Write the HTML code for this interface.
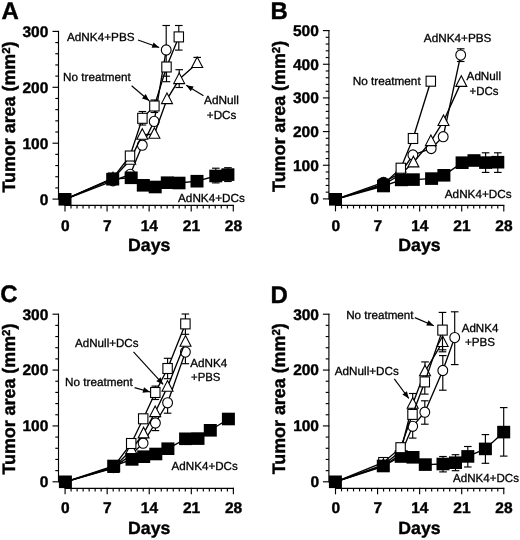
<!DOCTYPE html>
<html><head><meta charset="utf-8"><title>Figure</title>
<style>html,body{margin:0;padding:0;background:#fff}svg{display:block;will-change:transform}text{text-rendering:geometricPrecision;font-family:'Liberation Sans', sans-serif;fill:#000}</style>
</head><body>
<svg width="520" height="540" viewBox="0 0 520 540">
<rect width="520" height="540" fill="#fff"/>
<g id="panelA">
<text x="1.40" y="19.00" font-size="24" font-weight="bold" stroke="#000" stroke-width="0.4">A</text>
<line x1="58.50" y1="30.90" x2="58.50" y2="199.60" stroke="#000" stroke-width="1.15"/>
<line x1="52.50" y1="199.10" x2="59.00" y2="199.10" stroke="#000" stroke-width="1.15"/>
<text x="48.30" y="204.50" font-size="15.5" font-weight="bold" stroke="#000" stroke-width="0.4" text-anchor="end">0</text>
<line x1="55.30" y1="187.92" x2="58.50" y2="187.92" stroke="#000" stroke-width="1.15"/>
<line x1="55.30" y1="176.74" x2="58.50" y2="176.74" stroke="#000" stroke-width="1.15"/>
<line x1="55.30" y1="165.56" x2="58.50" y2="165.56" stroke="#000" stroke-width="1.15"/>
<line x1="55.30" y1="154.38" x2="58.50" y2="154.38" stroke="#000" stroke-width="1.15"/>
<line x1="52.50" y1="143.20" x2="59.00" y2="143.20" stroke="#000" stroke-width="1.15"/>
<text x="48.30" y="148.60" font-size="15.5" font-weight="bold" stroke="#000" stroke-width="0.4" text-anchor="end">100</text>
<line x1="55.30" y1="132.02" x2="58.50" y2="132.02" stroke="#000" stroke-width="1.15"/>
<line x1="55.30" y1="120.84" x2="58.50" y2="120.84" stroke="#000" stroke-width="1.15"/>
<line x1="55.30" y1="109.66" x2="58.50" y2="109.66" stroke="#000" stroke-width="1.15"/>
<line x1="55.30" y1="98.48" x2="58.50" y2="98.48" stroke="#000" stroke-width="1.15"/>
<line x1="52.50" y1="87.30" x2="59.00" y2="87.30" stroke="#000" stroke-width="1.15"/>
<text x="48.30" y="92.70" font-size="15.5" font-weight="bold" stroke="#000" stroke-width="0.4" text-anchor="end">200</text>
<line x1="55.30" y1="76.12" x2="58.50" y2="76.12" stroke="#000" stroke-width="1.15"/>
<line x1="55.30" y1="64.94" x2="58.50" y2="64.94" stroke="#000" stroke-width="1.15"/>
<line x1="55.30" y1="53.76" x2="58.50" y2="53.76" stroke="#000" stroke-width="1.15"/>
<line x1="55.30" y1="42.58" x2="58.50" y2="42.58" stroke="#000" stroke-width="1.15"/>
<line x1="52.50" y1="31.40" x2="59.00" y2="31.40" stroke="#000" stroke-width="1.15"/>
<text x="48.30" y="36.80" font-size="15.5" font-weight="bold" stroke="#000" stroke-width="0.4" text-anchor="end">300</text>
<line x1="64.50" y1="205.40" x2="233.78" y2="205.40" stroke="#000" stroke-width="1.15"/>
<line x1="65.00" y1="204.90" x2="65.00" y2="211.40" stroke="#000" stroke-width="1.15"/>
<text x="65.20" y="231.20" font-size="15.5" font-weight="bold" stroke="#000" stroke-width="0.4" text-anchor="middle">0</text>
<line x1="71.01" y1="205.40" x2="71.01" y2="208.50" stroke="#000" stroke-width="1.15"/>
<line x1="77.02" y1="205.40" x2="77.02" y2="208.50" stroke="#000" stroke-width="1.15"/>
<line x1="83.03" y1="205.40" x2="83.03" y2="208.50" stroke="#000" stroke-width="1.15"/>
<line x1="89.04" y1="205.40" x2="89.04" y2="208.50" stroke="#000" stroke-width="1.15"/>
<line x1="95.05" y1="205.40" x2="95.05" y2="208.50" stroke="#000" stroke-width="1.15"/>
<line x1="101.06" y1="205.40" x2="101.06" y2="208.50" stroke="#000" stroke-width="1.15"/>
<line x1="107.07" y1="204.90" x2="107.07" y2="211.40" stroke="#000" stroke-width="1.15"/>
<text x="107.27" y="231.20" font-size="15.5" font-weight="bold" stroke="#000" stroke-width="0.4" text-anchor="middle">7</text>
<line x1="113.08" y1="205.40" x2="113.08" y2="208.50" stroke="#000" stroke-width="1.15"/>
<line x1="119.09" y1="205.40" x2="119.09" y2="208.50" stroke="#000" stroke-width="1.15"/>
<line x1="125.10" y1="205.40" x2="125.10" y2="208.50" stroke="#000" stroke-width="1.15"/>
<line x1="131.11" y1="205.40" x2="131.11" y2="208.50" stroke="#000" stroke-width="1.15"/>
<line x1="137.12" y1="205.40" x2="137.12" y2="208.50" stroke="#000" stroke-width="1.15"/>
<line x1="143.13" y1="205.40" x2="143.13" y2="208.50" stroke="#000" stroke-width="1.15"/>
<line x1="149.14" y1="204.90" x2="149.14" y2="211.40" stroke="#000" stroke-width="1.15"/>
<text x="149.34" y="231.20" font-size="15.5" font-weight="bold" stroke="#000" stroke-width="0.4" text-anchor="middle">14</text>
<line x1="155.15" y1="205.40" x2="155.15" y2="208.50" stroke="#000" stroke-width="1.15"/>
<line x1="161.16" y1="205.40" x2="161.16" y2="208.50" stroke="#000" stroke-width="1.15"/>
<line x1="167.17" y1="205.40" x2="167.17" y2="208.50" stroke="#000" stroke-width="1.15"/>
<line x1="173.18" y1="205.40" x2="173.18" y2="208.50" stroke="#000" stroke-width="1.15"/>
<line x1="179.19" y1="205.40" x2="179.19" y2="208.50" stroke="#000" stroke-width="1.15"/>
<line x1="185.20" y1="205.40" x2="185.20" y2="208.50" stroke="#000" stroke-width="1.15"/>
<line x1="191.21" y1="204.90" x2="191.21" y2="211.40" stroke="#000" stroke-width="1.15"/>
<text x="191.41" y="231.20" font-size="15.5" font-weight="bold" stroke="#000" stroke-width="0.4" text-anchor="middle">21</text>
<line x1="197.22" y1="205.40" x2="197.22" y2="208.50" stroke="#000" stroke-width="1.15"/>
<line x1="203.23" y1="205.40" x2="203.23" y2="208.50" stroke="#000" stroke-width="1.15"/>
<line x1="209.24" y1="205.40" x2="209.24" y2="208.50" stroke="#000" stroke-width="1.15"/>
<line x1="215.25" y1="205.40" x2="215.25" y2="208.50" stroke="#000" stroke-width="1.15"/>
<line x1="221.26" y1="205.40" x2="221.26" y2="208.50" stroke="#000" stroke-width="1.15"/>
<line x1="227.27" y1="205.40" x2="227.27" y2="208.50" stroke="#000" stroke-width="1.15"/>
<line x1="233.28" y1="204.90" x2="233.28" y2="211.40" stroke="#000" stroke-width="1.15"/>
<text x="233.48" y="231.20" font-size="15.5" font-weight="bold" stroke="#000" stroke-width="0.4" text-anchor="middle">28</text>
<text x="15.40" y="192.50" font-size="18" font-weight="bold" stroke="#000" stroke-width="0.4" textLength="151.0" lengthAdjust="spacingAndGlyphs" transform="rotate(-90 15.40 192.50)">Tumor area (mm<tspan font-size="11.5" dy="-4.9">2</tspan><tspan dy="4.9">)</tspan></text>
<text x="149.20" y="251.30" font-size="17.7" font-weight="bold" stroke="#000" stroke-width="0.4" text-anchor="middle">Days</text>
<rect x="108.30" y="173.00" width="9.40" height="10.00" fill="#fff" stroke="#000" stroke-width="1.1"/>
<polyline points="65.00,199.30 113.00,180.80 130.20,174.40 142.30,145.20 154.20,121.40 166.20,50.00" fill="none" stroke="#000" stroke-width="1.35"/>
<line x1="166.20" y1="50.00" x2="166.20" y2="25.50" stroke="#000" stroke-width="1.15"/>
<line x1="162.40" y1="25.50" x2="170.00" y2="25.50" stroke="#000" stroke-width="1.15"/>
<line x1="166.20" y1="50.00" x2="166.20" y2="76.20" stroke="#000" stroke-width="1.15"/>
<line x1="162.40" y1="76.20" x2="170.00" y2="76.20" stroke="#000" stroke-width="1.15"/>
<ellipse cx="113.00" cy="180.80" rx="4.9" ry="5.1" fill="#fff" stroke="#000" stroke-width="1.1"/>
<ellipse cx="130.20" cy="174.40" rx="4.9" ry="5.1" fill="#fff" stroke="#000" stroke-width="1.1"/>
<ellipse cx="142.30" cy="145.20" rx="4.9" ry="5.1" fill="#fff" stroke="#000" stroke-width="1.1"/>
<ellipse cx="154.20" cy="121.40" rx="4.9" ry="5.1" fill="#fff" stroke="#000" stroke-width="1.1"/>
<ellipse cx="166.20" cy="50.00" rx="4.9" ry="5.1" fill="#fff" stroke="#000" stroke-width="1.1"/>
<polyline points="65.00,199.30 113.00,178.50 130.20,160.00 142.30,135.00 154.40,134.00 167.00,99.30 179.20,79.30 197.20,63.20" fill="none" stroke="#000" stroke-width="1.35"/>
<line x1="179.20" y1="79.30" x2="179.20" y2="69.70" stroke="#000" stroke-width="1.15"/>
<line x1="175.40" y1="69.70" x2="183.00" y2="69.70" stroke="#000" stroke-width="1.15"/>
<line x1="179.20" y1="79.30" x2="179.20" y2="87.50" stroke="#000" stroke-width="1.15"/>
<line x1="175.40" y1="87.50" x2="183.00" y2="87.50" stroke="#000" stroke-width="1.15"/>
<line x1="197.20" y1="63.20" x2="197.20" y2="57.40" stroke="#000" stroke-width="1.15"/>
<line x1="193.40" y1="57.40" x2="201.00" y2="57.40" stroke="#000" stroke-width="1.15"/>
<polygon points="113.00,172.20 118.50,182.80 107.50,182.80" fill="#fff" stroke="#000" stroke-width="1.1"/>
<polygon points="130.20,153.70 135.70,164.30 124.70,164.30" fill="#fff" stroke="#000" stroke-width="1.1"/>
<polygon points="142.30,128.70 147.80,139.30 136.80,139.30" fill="#fff" stroke="#000" stroke-width="1.1"/>
<polygon points="154.40,127.70 159.90,138.30 148.90,138.30" fill="#fff" stroke="#000" stroke-width="1.1"/>
<polygon points="167.00,93.00 172.50,103.60 161.50,103.60" fill="#fff" stroke="#000" stroke-width="1.1"/>
<polygon points="179.20,73.00 184.70,83.60 173.70,83.60" fill="#fff" stroke="#000" stroke-width="1.1"/>
<polygon points="197.20,56.90 202.70,67.50 191.70,67.50" fill="#fff" stroke="#000" stroke-width="1.1"/>
<polyline points="65.00,199.30 112.70,179.20 131.20,177.80 143.30,185.30 155.20,187.00 167.30,182.70 179.00,183.00 197.00,181.20 215.80,176.00 227.90,174.60" fill="none" stroke="#000" stroke-width="1.35"/>
<line x1="215.80" y1="176.00" x2="215.80" y2="168.20" stroke="#000" stroke-width="1.15"/>
<line x1="212.00" y1="168.20" x2="219.60" y2="168.20" stroke="#000" stroke-width="1.15"/>
<line x1="215.80" y1="176.00" x2="215.80" y2="182.90" stroke="#000" stroke-width="1.15"/>
<line x1="212.00" y1="182.90" x2="219.60" y2="182.90" stroke="#000" stroke-width="1.15"/>
<line x1="227.90" y1="174.60" x2="227.90" y2="167.70" stroke="#000" stroke-width="1.15"/>
<line x1="224.10" y1="167.70" x2="231.70" y2="167.70" stroke="#000" stroke-width="1.15"/>
<line x1="227.90" y1="174.60" x2="227.90" y2="181.50" stroke="#000" stroke-width="1.15"/>
<line x1="224.10" y1="181.50" x2="231.70" y2="181.50" stroke="#000" stroke-width="1.15"/>
<rect x="58.50" y="193.00" width="13.00" height="12.60" fill="#000"/>
<rect x="106.20" y="172.90" width="13.00" height="12.60" fill="#000"/>
<rect x="124.70" y="171.50" width="13.00" height="12.60" fill="#000"/>
<rect x="136.80" y="179.00" width="13.00" height="12.60" fill="#000"/>
<rect x="148.70" y="180.70" width="13.00" height="12.60" fill="#000"/>
<rect x="160.80" y="176.40" width="13.00" height="12.60" fill="#000"/>
<rect x="172.50" y="176.70" width="13.00" height="12.60" fill="#000"/>
<rect x="190.50" y="174.90" width="13.00" height="12.60" fill="#000"/>
<rect x="209.30" y="169.70" width="13.00" height="12.60" fill="#000"/>
<rect x="221.40" y="168.30" width="13.00" height="12.60" fill="#000"/>
<polyline points="65.00,199.30 113.00,178.00 130.00,156.00 142.40,118.30 154.40,106.00 166.50,67.00 178.80,36.90" fill="none" stroke="#000" stroke-width="1.35"/>
<line x1="142.40" y1="118.30" x2="142.40" y2="111.50" stroke="#000" stroke-width="1.15"/>
<line x1="138.60" y1="111.50" x2="146.20" y2="111.50" stroke="#000" stroke-width="1.15"/>
<line x1="142.40" y1="118.30" x2="142.40" y2="125.00" stroke="#000" stroke-width="1.15"/>
<line x1="138.60" y1="125.00" x2="146.20" y2="125.00" stroke="#000" stroke-width="1.15"/>
<line x1="154.40" y1="106.00" x2="154.40" y2="100.00" stroke="#000" stroke-width="1.15"/>
<line x1="150.60" y1="100.00" x2="158.20" y2="100.00" stroke="#000" stroke-width="1.15"/>
<line x1="154.40" y1="106.00" x2="154.40" y2="112.50" stroke="#000" stroke-width="1.15"/>
<line x1="150.60" y1="112.50" x2="158.20" y2="112.50" stroke="#000" stroke-width="1.15"/>
<line x1="166.50" y1="67.00" x2="166.50" y2="81.70" stroke="#000" stroke-width="1.15"/>
<line x1="162.70" y1="81.70" x2="170.30" y2="81.70" stroke="#000" stroke-width="1.15"/>
<line x1="178.80" y1="36.90" x2="178.80" y2="25.50" stroke="#000" stroke-width="1.15"/>
<line x1="175.00" y1="25.50" x2="182.60" y2="25.50" stroke="#000" stroke-width="1.15"/>
<line x1="178.80" y1="36.90" x2="178.80" y2="50.10" stroke="#000" stroke-width="1.15"/>
<line x1="175.00" y1="50.10" x2="182.60" y2="50.10" stroke="#000" stroke-width="1.15"/>
<rect x="125.30" y="151.00" width="9.40" height="10.00" fill="#fff" stroke="#000" stroke-width="1.1"/>
<rect x="137.70" y="113.30" width="9.40" height="10.00" fill="#fff" stroke="#000" stroke-width="1.1"/>
<rect x="149.70" y="101.00" width="9.40" height="10.00" fill="#fff" stroke="#000" stroke-width="1.1"/>
<rect x="161.80" y="62.00" width="9.40" height="10.00" fill="#fff" stroke="#000" stroke-width="1.1"/>
<rect x="174.10" y="31.90" width="9.40" height="10.00" fill="#fff" stroke="#000" stroke-width="1.1"/>
<text x="67.00" y="40.80" font-size="11.7" stroke="#000" stroke-width="0.3" textLength="67.6" lengthAdjust="spacingAndGlyphs">AdNK4+PBS</text>
<line x1="138.00" y1="40.00" x2="159.20" y2="47.50" stroke="#000" stroke-width="1.15"/>
<polygon points="159.20,47.50 151.65,47.85 153.55,42.48" fill="#000"/>
<text x="63.10" y="81.20" font-size="11.7" stroke="#000" stroke-width="0.3" textLength="67.6" lengthAdjust="spacingAndGlyphs">No treatment</text>
<line x1="131.60" y1="85.80" x2="149.20" y2="100.80" stroke="#000" stroke-width="1.15"/>
<polygon points="149.20,100.80 142.02,98.43 145.72,94.09" fill="#000"/>
<text x="204.00" y="104.20" font-size="11.7" stroke="#000" stroke-width="0.3" textLength="34.8" lengthAdjust="spacingAndGlyphs">AdNull</text>
<text x="206.80" y="118.80" font-size="11.7" stroke="#000" stroke-width="0.3" textLength="29.6" lengthAdjust="spacingAndGlyphs">+DCs</text>
<line x1="203.50" y1="95.70" x2="186.20" y2="85.20" stroke="#000" stroke-width="1.15"/>
<polygon points="186.20,85.20 193.66,86.40 190.71,91.27" fill="#000"/>
<text x="178.00" y="201.90" font-size="11.7" stroke="#000" stroke-width="0.3" textLength="67.0" lengthAdjust="spacingAndGlyphs">AdNK4+DCs</text>
</g>
<g id="panelB">
<text x="270.50" y="19.20" font-size="24" font-weight="bold" stroke="#000" stroke-width="0.4">B</text>
<line x1="328.90" y1="30.10" x2="328.90" y2="199.40" stroke="#000" stroke-width="1.15"/>
<line x1="322.90" y1="198.90" x2="329.40" y2="198.90" stroke="#000" stroke-width="1.15"/>
<text x="318.80" y="204.30" font-size="15.5" font-weight="bold" stroke="#000" stroke-width="0.4" text-anchor="end">0</text>
<line x1="325.70" y1="192.17" x2="328.90" y2="192.17" stroke="#000" stroke-width="1.15"/>
<line x1="325.70" y1="185.44" x2="328.90" y2="185.44" stroke="#000" stroke-width="1.15"/>
<line x1="325.70" y1="178.70" x2="328.90" y2="178.70" stroke="#000" stroke-width="1.15"/>
<line x1="325.70" y1="171.97" x2="328.90" y2="171.97" stroke="#000" stroke-width="1.15"/>
<line x1="322.90" y1="165.24" x2="329.40" y2="165.24" stroke="#000" stroke-width="1.15"/>
<text x="318.80" y="170.64" font-size="15.5" font-weight="bold" stroke="#000" stroke-width="0.4" text-anchor="end">100</text>
<line x1="325.70" y1="158.51" x2="328.90" y2="158.51" stroke="#000" stroke-width="1.15"/>
<line x1="325.70" y1="151.78" x2="328.90" y2="151.78" stroke="#000" stroke-width="1.15"/>
<line x1="325.70" y1="145.04" x2="328.90" y2="145.04" stroke="#000" stroke-width="1.15"/>
<line x1="325.70" y1="138.31" x2="328.90" y2="138.31" stroke="#000" stroke-width="1.15"/>
<line x1="322.90" y1="131.58" x2="329.40" y2="131.58" stroke="#000" stroke-width="1.15"/>
<text x="318.80" y="136.98" font-size="15.5" font-weight="bold" stroke="#000" stroke-width="0.4" text-anchor="end">200</text>
<line x1="325.70" y1="124.85" x2="328.90" y2="124.85" stroke="#000" stroke-width="1.15"/>
<line x1="325.70" y1="118.12" x2="328.90" y2="118.12" stroke="#000" stroke-width="1.15"/>
<line x1="325.70" y1="111.38" x2="328.90" y2="111.38" stroke="#000" stroke-width="1.15"/>
<line x1="325.70" y1="104.65" x2="328.90" y2="104.65" stroke="#000" stroke-width="1.15"/>
<line x1="322.90" y1="97.92" x2="329.40" y2="97.92" stroke="#000" stroke-width="1.15"/>
<text x="318.80" y="103.32" font-size="15.5" font-weight="bold" stroke="#000" stroke-width="0.4" text-anchor="end">300</text>
<line x1="325.70" y1="91.19" x2="328.90" y2="91.19" stroke="#000" stroke-width="1.15"/>
<line x1="325.70" y1="84.46" x2="328.90" y2="84.46" stroke="#000" stroke-width="1.15"/>
<line x1="325.70" y1="77.72" x2="328.90" y2="77.72" stroke="#000" stroke-width="1.15"/>
<line x1="325.70" y1="70.99" x2="328.90" y2="70.99" stroke="#000" stroke-width="1.15"/>
<line x1="322.90" y1="64.26" x2="329.40" y2="64.26" stroke="#000" stroke-width="1.15"/>
<text x="318.80" y="69.66" font-size="15.5" font-weight="bold" stroke="#000" stroke-width="0.4" text-anchor="end">400</text>
<line x1="325.70" y1="57.53" x2="328.90" y2="57.53" stroke="#000" stroke-width="1.15"/>
<line x1="325.70" y1="50.80" x2="328.90" y2="50.80" stroke="#000" stroke-width="1.15"/>
<line x1="325.70" y1="44.06" x2="328.90" y2="44.06" stroke="#000" stroke-width="1.15"/>
<line x1="325.70" y1="37.33" x2="328.90" y2="37.33" stroke="#000" stroke-width="1.15"/>
<line x1="322.90" y1="30.60" x2="329.40" y2="30.60" stroke="#000" stroke-width="1.15"/>
<text x="318.80" y="36.00" font-size="15.5" font-weight="bold" stroke="#000" stroke-width="0.4" text-anchor="end">500</text>
<line x1="335.00" y1="205.40" x2="504.28" y2="205.40" stroke="#000" stroke-width="1.15"/>
<line x1="335.50" y1="204.90" x2="335.50" y2="211.40" stroke="#000" stroke-width="1.15"/>
<text x="335.70" y="230.50" font-size="15.5" font-weight="bold" stroke="#000" stroke-width="0.4" text-anchor="middle">0</text>
<line x1="341.51" y1="205.40" x2="341.51" y2="208.50" stroke="#000" stroke-width="1.15"/>
<line x1="347.52" y1="205.40" x2="347.52" y2="208.50" stroke="#000" stroke-width="1.15"/>
<line x1="353.53" y1="205.40" x2="353.53" y2="208.50" stroke="#000" stroke-width="1.15"/>
<line x1="359.54" y1="205.40" x2="359.54" y2="208.50" stroke="#000" stroke-width="1.15"/>
<line x1="365.55" y1="205.40" x2="365.55" y2="208.50" stroke="#000" stroke-width="1.15"/>
<line x1="371.56" y1="205.40" x2="371.56" y2="208.50" stroke="#000" stroke-width="1.15"/>
<line x1="377.57" y1="204.90" x2="377.57" y2="211.40" stroke="#000" stroke-width="1.15"/>
<text x="377.77" y="230.50" font-size="15.5" font-weight="bold" stroke="#000" stroke-width="0.4" text-anchor="middle">7</text>
<line x1="383.58" y1="205.40" x2="383.58" y2="208.50" stroke="#000" stroke-width="1.15"/>
<line x1="389.59" y1="205.40" x2="389.59" y2="208.50" stroke="#000" stroke-width="1.15"/>
<line x1="395.60" y1="205.40" x2="395.60" y2="208.50" stroke="#000" stroke-width="1.15"/>
<line x1="401.61" y1="205.40" x2="401.61" y2="208.50" stroke="#000" stroke-width="1.15"/>
<line x1="407.62" y1="205.40" x2="407.62" y2="208.50" stroke="#000" stroke-width="1.15"/>
<line x1="413.63" y1="205.40" x2="413.63" y2="208.50" stroke="#000" stroke-width="1.15"/>
<line x1="419.64" y1="204.90" x2="419.64" y2="211.40" stroke="#000" stroke-width="1.15"/>
<text x="419.84" y="230.50" font-size="15.5" font-weight="bold" stroke="#000" stroke-width="0.4" text-anchor="middle">14</text>
<line x1="425.65" y1="205.40" x2="425.65" y2="208.50" stroke="#000" stroke-width="1.15"/>
<line x1="431.66" y1="205.40" x2="431.66" y2="208.50" stroke="#000" stroke-width="1.15"/>
<line x1="437.67" y1="205.40" x2="437.67" y2="208.50" stroke="#000" stroke-width="1.15"/>
<line x1="443.68" y1="205.40" x2="443.68" y2="208.50" stroke="#000" stroke-width="1.15"/>
<line x1="449.69" y1="205.40" x2="449.69" y2="208.50" stroke="#000" stroke-width="1.15"/>
<line x1="455.70" y1="205.40" x2="455.70" y2="208.50" stroke="#000" stroke-width="1.15"/>
<line x1="461.71" y1="204.90" x2="461.71" y2="211.40" stroke="#000" stroke-width="1.15"/>
<text x="461.91" y="230.50" font-size="15.5" font-weight="bold" stroke="#000" stroke-width="0.4" text-anchor="middle">21</text>
<line x1="467.72" y1="205.40" x2="467.72" y2="208.50" stroke="#000" stroke-width="1.15"/>
<line x1="473.73" y1="205.40" x2="473.73" y2="208.50" stroke="#000" stroke-width="1.15"/>
<line x1="479.74" y1="205.40" x2="479.74" y2="208.50" stroke="#000" stroke-width="1.15"/>
<line x1="485.75" y1="205.40" x2="485.75" y2="208.50" stroke="#000" stroke-width="1.15"/>
<line x1="491.76" y1="205.40" x2="491.76" y2="208.50" stroke="#000" stroke-width="1.15"/>
<line x1="497.77" y1="205.40" x2="497.77" y2="208.50" stroke="#000" stroke-width="1.15"/>
<line x1="503.78" y1="204.90" x2="503.78" y2="211.40" stroke="#000" stroke-width="1.15"/>
<text x="503.98" y="230.50" font-size="15.5" font-weight="bold" stroke="#000" stroke-width="0.4" text-anchor="middle">28</text>
<text x="285.20" y="191.90" font-size="18" font-weight="bold" stroke="#000" stroke-width="0.4" textLength="151.0" lengthAdjust="spacingAndGlyphs" transform="rotate(-90 285.20 191.90)">Tumor area (mm<tspan font-size="11.5" dy="-4.9">2</tspan><tspan dy="4.9">)</tspan></text>
<text x="419.50" y="251.30" font-size="17.7" font-weight="bold" stroke="#000" stroke-width="0.4" text-anchor="middle">Days</text>
<rect x="378.80" y="179.20" width="9.40" height="10.00" fill="#fff" stroke="#000" stroke-width="1.1"/>
<polyline points="335.50,199.30 383.50,182.30 401.00,172.50 412.90,155.00 431.20,148.50 443.20,136.70 460.70,55.10" fill="none" stroke="#000" stroke-width="1.35"/>
<line x1="460.70" y1="55.10" x2="460.70" y2="48.80" stroke="#000" stroke-width="1.15"/>
<line x1="456.90" y1="48.80" x2="464.50" y2="48.80" stroke="#000" stroke-width="1.15"/>
<line x1="460.70" y1="55.10" x2="460.70" y2="61.50" stroke="#000" stroke-width="1.15"/>
<line x1="456.90" y1="61.50" x2="464.50" y2="61.50" stroke="#000" stroke-width="1.15"/>
<ellipse cx="383.50" cy="182.30" rx="4.9" ry="5.1" fill="#fff" stroke="#000" stroke-width="1.1"/>
<ellipse cx="401.00" cy="172.50" rx="4.9" ry="5.1" fill="#fff" stroke="#000" stroke-width="1.1"/>
<ellipse cx="412.90" cy="155.00" rx="4.9" ry="5.1" fill="#fff" stroke="#000" stroke-width="1.1"/>
<ellipse cx="431.20" cy="148.50" rx="4.9" ry="5.1" fill="#fff" stroke="#000" stroke-width="1.1"/>
<ellipse cx="443.20" cy="136.70" rx="4.9" ry="5.1" fill="#fff" stroke="#000" stroke-width="1.1"/>
<ellipse cx="460.70" cy="55.10" rx="4.9" ry="5.1" fill="#fff" stroke="#000" stroke-width="1.1"/>
<polyline points="335.50,199.30 383.50,184.80 401.00,174.00 413.40,162.60 430.90,141.30 443.50,121.20 461.30,82.10" fill="none" stroke="#000" stroke-width="1.35"/>
<polygon points="383.50,178.50 389.00,189.10 378.00,189.10" fill="#fff" stroke="#000" stroke-width="1.1"/>
<polygon points="401.00,167.70 406.50,178.30 395.50,178.30" fill="#fff" stroke="#000" stroke-width="1.1"/>
<polygon points="413.40,156.30 418.90,166.90 407.90,166.90" fill="#fff" stroke="#000" stroke-width="1.1"/>
<polygon points="430.90,135.00 436.40,145.60 425.40,145.60" fill="#fff" stroke="#000" stroke-width="1.1"/>
<polygon points="443.50,114.90 449.00,125.50 438.00,125.50" fill="#fff" stroke="#000" stroke-width="1.1"/>
<polygon points="461.30,75.80 466.80,86.40 455.80,86.40" fill="#fff" stroke="#000" stroke-width="1.1"/>
<ellipse cx="383.5" cy="182.3" rx="4.9" ry="5.1" fill="#000"/>
<polyline points="335.50,199.30 383.50,186.00 401.40,179.90 413.30,179.60 431.60,178.60 443.90,175.30 462.10,162.70 474.00,160.50 485.60,162.60 497.80,162.20" fill="none" stroke="#000" stroke-width="1.35"/>
<line x1="485.60" y1="162.60" x2="485.60" y2="152.80" stroke="#000" stroke-width="1.15"/>
<line x1="481.80" y1="152.80" x2="489.40" y2="152.80" stroke="#000" stroke-width="1.15"/>
<line x1="485.60" y1="162.60" x2="485.60" y2="172.40" stroke="#000" stroke-width="1.15"/>
<line x1="481.80" y1="172.40" x2="489.40" y2="172.40" stroke="#000" stroke-width="1.15"/>
<line x1="497.80" y1="162.20" x2="497.80" y2="152.80" stroke="#000" stroke-width="1.15"/>
<line x1="494.00" y1="152.80" x2="501.60" y2="152.80" stroke="#000" stroke-width="1.15"/>
<line x1="497.80" y1="162.20" x2="497.80" y2="172.40" stroke="#000" stroke-width="1.15"/>
<line x1="494.00" y1="172.40" x2="501.60" y2="172.40" stroke="#000" stroke-width="1.15"/>
<rect x="329.00" y="193.00" width="13.00" height="12.60" fill="#000"/>
<rect x="377.00" y="179.70" width="13.00" height="12.60" fill="#000"/>
<rect x="394.90" y="173.60" width="13.00" height="12.60" fill="#000"/>
<rect x="406.80" y="173.30" width="13.00" height="12.60" fill="#000"/>
<rect x="425.10" y="172.30" width="13.00" height="12.60" fill="#000"/>
<rect x="437.40" y="169.00" width="13.00" height="12.60" fill="#000"/>
<rect x="455.60" y="156.40" width="13.00" height="12.60" fill="#000"/>
<rect x="467.50" y="154.20" width="13.00" height="12.60" fill="#000"/>
<rect x="479.10" y="156.30" width="13.00" height="12.60" fill="#000"/>
<rect x="491.30" y="155.90" width="13.00" height="12.60" fill="#000"/>
<polyline points="335.50,199.30 383.50,184.20 400.80,168.20 413.00,138.50 430.80,81.20" fill="none" stroke="#000" stroke-width="1.35"/>
<rect x="396.10" y="163.20" width="9.40" height="10.00" fill="#fff" stroke="#000" stroke-width="1.1"/>
<rect x="408.30" y="133.50" width="9.40" height="10.00" fill="#fff" stroke="#000" stroke-width="1.1"/>
<rect x="426.10" y="76.20" width="9.40" height="10.00" fill="#fff" stroke="#000" stroke-width="1.1"/>
<text x="423.80" y="41.80" font-size="11.7" stroke="#000" stroke-width="0.3" textLength="67.6" lengthAdjust="spacingAndGlyphs">AdNK4+PBS</text>
<text x="352.70" y="84.70" font-size="11.7" stroke="#000" stroke-width="0.3" textLength="68.0" lengthAdjust="spacingAndGlyphs">No treatment</text>
<text x="466.60" y="80.30" font-size="11.7" stroke="#000" stroke-width="0.3" textLength="34.4" lengthAdjust="spacingAndGlyphs">AdNull</text>
<text x="469.60" y="95.00" font-size="11.7" stroke="#000" stroke-width="0.3" textLength="29.0" lengthAdjust="spacingAndGlyphs">+DCs</text>
<text x="444.80" y="197.80" font-size="11.7" stroke="#000" stroke-width="0.3" textLength="66.8" lengthAdjust="spacingAndGlyphs">AdNK4+DCs</text>
</g>
<g id="panelC">
<text x="0.20" y="302.00" font-size="24" font-weight="bold" stroke="#000" stroke-width="0.4">C</text>
<line x1="58.50" y1="313.70" x2="58.50" y2="482.30" stroke="#000" stroke-width="1.15"/>
<line x1="52.50" y1="481.80" x2="59.00" y2="481.80" stroke="#000" stroke-width="1.15"/>
<text x="48.30" y="487.20" font-size="15.5" font-weight="bold" stroke="#000" stroke-width="0.4" text-anchor="end">0</text>
<line x1="55.30" y1="470.63" x2="58.50" y2="470.63" stroke="#000" stroke-width="1.15"/>
<line x1="55.30" y1="459.45" x2="58.50" y2="459.45" stroke="#000" stroke-width="1.15"/>
<line x1="55.30" y1="448.28" x2="58.50" y2="448.28" stroke="#000" stroke-width="1.15"/>
<line x1="55.30" y1="437.11" x2="58.50" y2="437.11" stroke="#000" stroke-width="1.15"/>
<line x1="52.50" y1="425.93" x2="59.00" y2="425.93" stroke="#000" stroke-width="1.15"/>
<text x="48.30" y="431.33" font-size="15.5" font-weight="bold" stroke="#000" stroke-width="0.4" text-anchor="end">100</text>
<line x1="55.30" y1="414.76" x2="58.50" y2="414.76" stroke="#000" stroke-width="1.15"/>
<line x1="55.30" y1="403.59" x2="58.50" y2="403.59" stroke="#000" stroke-width="1.15"/>
<line x1="55.30" y1="392.41" x2="58.50" y2="392.41" stroke="#000" stroke-width="1.15"/>
<line x1="55.30" y1="381.24" x2="58.50" y2="381.24" stroke="#000" stroke-width="1.15"/>
<line x1="52.50" y1="370.07" x2="59.00" y2="370.07" stroke="#000" stroke-width="1.15"/>
<text x="48.30" y="375.47" font-size="15.5" font-weight="bold" stroke="#000" stroke-width="0.4" text-anchor="end">200</text>
<line x1="55.30" y1="358.89" x2="58.50" y2="358.89" stroke="#000" stroke-width="1.15"/>
<line x1="55.30" y1="347.72" x2="58.50" y2="347.72" stroke="#000" stroke-width="1.15"/>
<line x1="55.30" y1="336.55" x2="58.50" y2="336.55" stroke="#000" stroke-width="1.15"/>
<line x1="55.30" y1="325.37" x2="58.50" y2="325.37" stroke="#000" stroke-width="1.15"/>
<line x1="52.50" y1="314.20" x2="59.00" y2="314.20" stroke="#000" stroke-width="1.15"/>
<text x="48.30" y="319.60" font-size="15.5" font-weight="bold" stroke="#000" stroke-width="0.4" text-anchor="end">300</text>
<line x1="64.60" y1="488.30" x2="233.88" y2="488.30" stroke="#000" stroke-width="1.15"/>
<line x1="65.10" y1="487.80" x2="65.10" y2="494.30" stroke="#000" stroke-width="1.15"/>
<text x="65.30" y="513.10" font-size="15.5" font-weight="bold" stroke="#000" stroke-width="0.4" text-anchor="middle">0</text>
<line x1="71.11" y1="488.30" x2="71.11" y2="491.40" stroke="#000" stroke-width="1.15"/>
<line x1="77.12" y1="488.30" x2="77.12" y2="491.40" stroke="#000" stroke-width="1.15"/>
<line x1="83.13" y1="488.30" x2="83.13" y2="491.40" stroke="#000" stroke-width="1.15"/>
<line x1="89.14" y1="488.30" x2="89.14" y2="491.40" stroke="#000" stroke-width="1.15"/>
<line x1="95.15" y1="488.30" x2="95.15" y2="491.40" stroke="#000" stroke-width="1.15"/>
<line x1="101.16" y1="488.30" x2="101.16" y2="491.40" stroke="#000" stroke-width="1.15"/>
<line x1="107.17" y1="487.80" x2="107.17" y2="494.30" stroke="#000" stroke-width="1.15"/>
<text x="107.37" y="513.10" font-size="15.5" font-weight="bold" stroke="#000" stroke-width="0.4" text-anchor="middle">7</text>
<line x1="113.18" y1="488.30" x2="113.18" y2="491.40" stroke="#000" stroke-width="1.15"/>
<line x1="119.19" y1="488.30" x2="119.19" y2="491.40" stroke="#000" stroke-width="1.15"/>
<line x1="125.20" y1="488.30" x2="125.20" y2="491.40" stroke="#000" stroke-width="1.15"/>
<line x1="131.21" y1="488.30" x2="131.21" y2="491.40" stroke="#000" stroke-width="1.15"/>
<line x1="137.22" y1="488.30" x2="137.22" y2="491.40" stroke="#000" stroke-width="1.15"/>
<line x1="143.23" y1="488.30" x2="143.23" y2="491.40" stroke="#000" stroke-width="1.15"/>
<line x1="149.24" y1="487.80" x2="149.24" y2="494.30" stroke="#000" stroke-width="1.15"/>
<text x="149.44" y="513.10" font-size="15.5" font-weight="bold" stroke="#000" stroke-width="0.4" text-anchor="middle">14</text>
<line x1="155.25" y1="488.30" x2="155.25" y2="491.40" stroke="#000" stroke-width="1.15"/>
<line x1="161.26" y1="488.30" x2="161.26" y2="491.40" stroke="#000" stroke-width="1.15"/>
<line x1="167.27" y1="488.30" x2="167.27" y2="491.40" stroke="#000" stroke-width="1.15"/>
<line x1="173.28" y1="488.30" x2="173.28" y2="491.40" stroke="#000" stroke-width="1.15"/>
<line x1="179.29" y1="488.30" x2="179.29" y2="491.40" stroke="#000" stroke-width="1.15"/>
<line x1="185.30" y1="488.30" x2="185.30" y2="491.40" stroke="#000" stroke-width="1.15"/>
<line x1="191.31" y1="487.80" x2="191.31" y2="494.30" stroke="#000" stroke-width="1.15"/>
<text x="191.51" y="513.10" font-size="15.5" font-weight="bold" stroke="#000" stroke-width="0.4" text-anchor="middle">21</text>
<line x1="197.32" y1="488.30" x2="197.32" y2="491.40" stroke="#000" stroke-width="1.15"/>
<line x1="203.33" y1="488.30" x2="203.33" y2="491.40" stroke="#000" stroke-width="1.15"/>
<line x1="209.34" y1="488.30" x2="209.34" y2="491.40" stroke="#000" stroke-width="1.15"/>
<line x1="215.35" y1="488.30" x2="215.35" y2="491.40" stroke="#000" stroke-width="1.15"/>
<line x1="221.36" y1="488.30" x2="221.36" y2="491.40" stroke="#000" stroke-width="1.15"/>
<line x1="227.37" y1="488.30" x2="227.37" y2="491.40" stroke="#000" stroke-width="1.15"/>
<line x1="233.38" y1="487.80" x2="233.38" y2="494.30" stroke="#000" stroke-width="1.15"/>
<text x="233.58" y="513.10" font-size="15.5" font-weight="bold" stroke="#000" stroke-width="0.4" text-anchor="middle">28</text>
<text x="15.40" y="474.60" font-size="18" font-weight="bold" stroke="#000" stroke-width="0.4" textLength="151.0" lengthAdjust="spacingAndGlyphs" transform="rotate(-90 15.40 474.60)">Tumor area (mm<tspan font-size="11.5" dy="-4.9">2</tspan><tspan dy="4.9">)</tspan></text>
<text x="149.20" y="534.20" font-size="17.7" font-weight="bold" stroke="#000" stroke-width="0.4" text-anchor="middle">Days</text>
<rect x="108.80" y="461.80" width="9.40" height="10.00" fill="#fff" stroke="#000" stroke-width="1.1"/>
<polyline points="65.40,481.80 113.50,467.60 131.00,455.00 143.10,443.20 155.40,423.00 167.60,402.80 185.40,352.10" fill="none" stroke="#000" stroke-width="1.35"/>
<line x1="155.40" y1="423.00" x2="155.40" y2="430.60" stroke="#000" stroke-width="1.15"/>
<line x1="151.60" y1="430.60" x2="159.20" y2="430.60" stroke="#000" stroke-width="1.15"/>
<line x1="167.60" y1="402.80" x2="167.60" y2="413.20" stroke="#000" stroke-width="1.15"/>
<line x1="163.80" y1="413.20" x2="171.40" y2="413.20" stroke="#000" stroke-width="1.15"/>
<line x1="185.40" y1="352.10" x2="185.40" y2="363.70" stroke="#000" stroke-width="1.15"/>
<line x1="181.60" y1="363.70" x2="189.20" y2="363.70" stroke="#000" stroke-width="1.15"/>
<ellipse cx="113.50" cy="467.60" rx="4.9" ry="5.1" fill="#fff" stroke="#000" stroke-width="1.1"/>
<ellipse cx="131.00" cy="455.00" rx="4.9" ry="5.1" fill="#fff" stroke="#000" stroke-width="1.1"/>
<ellipse cx="143.10" cy="443.20" rx="4.9" ry="5.1" fill="#fff" stroke="#000" stroke-width="1.1"/>
<ellipse cx="155.40" cy="423.00" rx="4.9" ry="5.1" fill="#fff" stroke="#000" stroke-width="1.1"/>
<ellipse cx="167.60" cy="402.80" rx="4.9" ry="5.1" fill="#fff" stroke="#000" stroke-width="1.1"/>
<ellipse cx="185.40" cy="352.10" rx="4.9" ry="5.1" fill="#fff" stroke="#000" stroke-width="1.1"/>
<polyline points="65.40,481.80 113.50,468.20 131.30,449.50 143.60,433.60 155.20,412.30 167.50,386.90 185.50,341.90" fill="none" stroke="#000" stroke-width="1.35"/>
<polygon points="113.50,461.90 119.00,472.50 108.00,472.50" fill="#fff" stroke="#000" stroke-width="1.1"/>
<polygon points="131.30,443.20 136.80,453.80 125.80,453.80" fill="#fff" stroke="#000" stroke-width="1.1"/>
<polygon points="143.60,427.30 149.10,437.90 138.10,437.90" fill="#fff" stroke="#000" stroke-width="1.1"/>
<polygon points="155.20,406.00 160.70,416.60 149.70,416.60" fill="#fff" stroke="#000" stroke-width="1.1"/>
<polygon points="167.50,380.60 173.00,391.20 162.00,391.20" fill="#fff" stroke="#000" stroke-width="1.1"/>
<polygon points="185.50,335.60 191.00,346.20 180.00,346.20" fill="#fff" stroke="#000" stroke-width="1.1"/>
<polyline points="65.40,481.80 113.70,466.00 132.00,459.40 143.70,456.70 155.80,454.00 167.90,448.70 185.60,438.80 198.00,438.60 210.30,430.30 228.40,419.00" fill="none" stroke="#000" stroke-width="1.35"/>
<rect x="58.90" y="475.50" width="13.00" height="12.60" fill="#000"/>
<rect x="107.20" y="459.70" width="13.00" height="12.60" fill="#000"/>
<rect x="125.50" y="453.10" width="13.00" height="12.60" fill="#000"/>
<rect x="137.20" y="450.40" width="13.00" height="12.60" fill="#000"/>
<rect x="149.30" y="447.70" width="13.00" height="12.60" fill="#000"/>
<rect x="161.40" y="442.40" width="13.00" height="12.60" fill="#000"/>
<rect x="179.10" y="432.50" width="13.00" height="12.60" fill="#000"/>
<rect x="191.50" y="432.30" width="13.00" height="12.60" fill="#000"/>
<rect x="203.80" y="424.00" width="13.00" height="12.60" fill="#000"/>
<rect x="221.90" y="412.70" width="13.00" height="12.60" fill="#000"/>
<polyline points="65.40,481.80 113.50,466.80 131.20,443.50 143.20,418.80 155.30,392.50 167.60,368.50 185.40,323.90" fill="none" stroke="#000" stroke-width="1.35"/>
<line x1="155.30" y1="392.50" x2="155.30" y2="386.10" stroke="#000" stroke-width="1.15"/>
<line x1="151.50" y1="386.10" x2="159.10" y2="386.10" stroke="#000" stroke-width="1.15"/>
<line x1="155.30" y1="392.50" x2="155.30" y2="399.50" stroke="#000" stroke-width="1.15"/>
<line x1="151.50" y1="399.50" x2="159.10" y2="399.50" stroke="#000" stroke-width="1.15"/>
<line x1="167.60" y1="368.50" x2="167.60" y2="358.30" stroke="#000" stroke-width="1.15"/>
<line x1="163.80" y1="358.30" x2="171.40" y2="358.30" stroke="#000" stroke-width="1.15"/>
<line x1="167.60" y1="368.50" x2="167.60" y2="378.70" stroke="#000" stroke-width="1.15"/>
<line x1="163.80" y1="378.70" x2="171.40" y2="378.70" stroke="#000" stroke-width="1.15"/>
<line x1="185.40" y1="323.90" x2="185.40" y2="314.00" stroke="#000" stroke-width="1.15"/>
<line x1="181.60" y1="314.00" x2="189.20" y2="314.00" stroke="#000" stroke-width="1.15"/>
<line x1="185.40" y1="323.90" x2="185.40" y2="334.30" stroke="#000" stroke-width="1.15"/>
<line x1="181.60" y1="334.30" x2="189.20" y2="334.30" stroke="#000" stroke-width="1.15"/>
<rect x="126.50" y="438.50" width="9.40" height="10.00" fill="#fff" stroke="#000" stroke-width="1.1"/>
<rect x="138.50" y="413.80" width="9.40" height="10.00" fill="#fff" stroke="#000" stroke-width="1.1"/>
<rect x="150.60" y="387.50" width="9.40" height="10.00" fill="#fff" stroke="#000" stroke-width="1.1"/>
<rect x="162.90" y="363.50" width="9.40" height="10.00" fill="#fff" stroke="#000" stroke-width="1.1"/>
<rect x="180.70" y="318.90" width="9.40" height="10.00" fill="#fff" stroke="#000" stroke-width="1.1"/>
<text x="75.10" y="347.10" font-size="11.7" stroke="#000" stroke-width="0.3" textLength="63.4" lengthAdjust="spacingAndGlyphs">AdNull+DCs</text>
<line x1="133.50" y1="351.80" x2="163.20" y2="384.40" stroke="#000" stroke-width="1.15"/>
<polygon points="163.20,384.40 156.38,381.14 160.59,377.31" fill="#000"/>
<text x="65.00" y="386.20" font-size="11.7" stroke="#000" stroke-width="0.3" textLength="67.7" lengthAdjust="spacingAndGlyphs">No treatment</text>
<line x1="134.60" y1="387.60" x2="150.00" y2="392.00" stroke="#000" stroke-width="1.15"/>
<polygon points="150.00,392.00 142.49,392.82 144.05,387.34" fill="#000"/>
<text x="190.30" y="367.20" font-size="11.7" stroke="#000" stroke-width="0.3" textLength="37.1" lengthAdjust="spacingAndGlyphs">AdNK4</text>
<text x="191.00" y="380.70" font-size="11.7" stroke="#000" stroke-width="0.3" textLength="29.4" lengthAdjust="spacingAndGlyphs">+PBS</text>
<text x="171.60" y="469.80" font-size="11.7" stroke="#000" stroke-width="0.3" textLength="66.2" lengthAdjust="spacingAndGlyphs">AdNK4+DCs</text>
</g>
<g id="panelD">
<text x="270.50" y="302.50" font-size="24" font-weight="bold" stroke="#000" stroke-width="0.4">D</text>
<line x1="328.90" y1="313.70" x2="328.90" y2="482.30" stroke="#000" stroke-width="1.15"/>
<line x1="322.90" y1="481.80" x2="329.40" y2="481.80" stroke="#000" stroke-width="1.15"/>
<text x="319.00" y="487.20" font-size="15.5" font-weight="bold" stroke="#000" stroke-width="0.4" text-anchor="end">0</text>
<line x1="325.70" y1="470.63" x2="328.90" y2="470.63" stroke="#000" stroke-width="1.15"/>
<line x1="325.70" y1="459.45" x2="328.90" y2="459.45" stroke="#000" stroke-width="1.15"/>
<line x1="325.70" y1="448.28" x2="328.90" y2="448.28" stroke="#000" stroke-width="1.15"/>
<line x1="325.70" y1="437.11" x2="328.90" y2="437.11" stroke="#000" stroke-width="1.15"/>
<line x1="322.90" y1="425.93" x2="329.40" y2="425.93" stroke="#000" stroke-width="1.15"/>
<text x="319.00" y="431.33" font-size="15.5" font-weight="bold" stroke="#000" stroke-width="0.4" text-anchor="end">100</text>
<line x1="325.70" y1="414.76" x2="328.90" y2="414.76" stroke="#000" stroke-width="1.15"/>
<line x1="325.70" y1="403.59" x2="328.90" y2="403.59" stroke="#000" stroke-width="1.15"/>
<line x1="325.70" y1="392.41" x2="328.90" y2="392.41" stroke="#000" stroke-width="1.15"/>
<line x1="325.70" y1="381.24" x2="328.90" y2="381.24" stroke="#000" stroke-width="1.15"/>
<line x1="322.90" y1="370.07" x2="329.40" y2="370.07" stroke="#000" stroke-width="1.15"/>
<text x="319.00" y="375.47" font-size="15.5" font-weight="bold" stroke="#000" stroke-width="0.4" text-anchor="end">200</text>
<line x1="325.70" y1="358.89" x2="328.90" y2="358.89" stroke="#000" stroke-width="1.15"/>
<line x1="325.70" y1="347.72" x2="328.90" y2="347.72" stroke="#000" stroke-width="1.15"/>
<line x1="325.70" y1="336.55" x2="328.90" y2="336.55" stroke="#000" stroke-width="1.15"/>
<line x1="325.70" y1="325.37" x2="328.90" y2="325.37" stroke="#000" stroke-width="1.15"/>
<line x1="322.90" y1="314.20" x2="329.40" y2="314.20" stroke="#000" stroke-width="1.15"/>
<text x="319.00" y="319.60" font-size="15.5" font-weight="bold" stroke="#000" stroke-width="0.4" text-anchor="end">300</text>
<line x1="335.00" y1="488.30" x2="504.28" y2="488.30" stroke="#000" stroke-width="1.15"/>
<line x1="335.50" y1="487.80" x2="335.50" y2="494.30" stroke="#000" stroke-width="1.15"/>
<text x="335.70" y="513.20" font-size="15.5" font-weight="bold" stroke="#000" stroke-width="0.4" text-anchor="middle">0</text>
<line x1="341.51" y1="488.30" x2="341.51" y2="491.40" stroke="#000" stroke-width="1.15"/>
<line x1="347.52" y1="488.30" x2="347.52" y2="491.40" stroke="#000" stroke-width="1.15"/>
<line x1="353.53" y1="488.30" x2="353.53" y2="491.40" stroke="#000" stroke-width="1.15"/>
<line x1="359.54" y1="488.30" x2="359.54" y2="491.40" stroke="#000" stroke-width="1.15"/>
<line x1="365.55" y1="488.30" x2="365.55" y2="491.40" stroke="#000" stroke-width="1.15"/>
<line x1="371.56" y1="488.30" x2="371.56" y2="491.40" stroke="#000" stroke-width="1.15"/>
<line x1="377.57" y1="487.80" x2="377.57" y2="494.30" stroke="#000" stroke-width="1.15"/>
<text x="377.77" y="513.20" font-size="15.5" font-weight="bold" stroke="#000" stroke-width="0.4" text-anchor="middle">7</text>
<line x1="383.58" y1="488.30" x2="383.58" y2="491.40" stroke="#000" stroke-width="1.15"/>
<line x1="389.59" y1="488.30" x2="389.59" y2="491.40" stroke="#000" stroke-width="1.15"/>
<line x1="395.60" y1="488.30" x2="395.60" y2="491.40" stroke="#000" stroke-width="1.15"/>
<line x1="401.61" y1="488.30" x2="401.61" y2="491.40" stroke="#000" stroke-width="1.15"/>
<line x1="407.62" y1="488.30" x2="407.62" y2="491.40" stroke="#000" stroke-width="1.15"/>
<line x1="413.63" y1="488.30" x2="413.63" y2="491.40" stroke="#000" stroke-width="1.15"/>
<line x1="419.64" y1="487.80" x2="419.64" y2="494.30" stroke="#000" stroke-width="1.15"/>
<text x="419.84" y="513.20" font-size="15.5" font-weight="bold" stroke="#000" stroke-width="0.4" text-anchor="middle">14</text>
<line x1="425.65" y1="488.30" x2="425.65" y2="491.40" stroke="#000" stroke-width="1.15"/>
<line x1="431.66" y1="488.30" x2="431.66" y2="491.40" stroke="#000" stroke-width="1.15"/>
<line x1="437.67" y1="488.30" x2="437.67" y2="491.40" stroke="#000" stroke-width="1.15"/>
<line x1="443.68" y1="488.30" x2="443.68" y2="491.40" stroke="#000" stroke-width="1.15"/>
<line x1="449.69" y1="488.30" x2="449.69" y2="491.40" stroke="#000" stroke-width="1.15"/>
<line x1="455.70" y1="488.30" x2="455.70" y2="491.40" stroke="#000" stroke-width="1.15"/>
<line x1="461.71" y1="487.80" x2="461.71" y2="494.30" stroke="#000" stroke-width="1.15"/>
<text x="461.91" y="513.20" font-size="15.5" font-weight="bold" stroke="#000" stroke-width="0.4" text-anchor="middle">21</text>
<line x1="467.72" y1="488.30" x2="467.72" y2="491.40" stroke="#000" stroke-width="1.15"/>
<line x1="473.73" y1="488.30" x2="473.73" y2="491.40" stroke="#000" stroke-width="1.15"/>
<line x1="479.74" y1="488.30" x2="479.74" y2="491.40" stroke="#000" stroke-width="1.15"/>
<line x1="485.75" y1="488.30" x2="485.75" y2="491.40" stroke="#000" stroke-width="1.15"/>
<line x1="491.76" y1="488.30" x2="491.76" y2="491.40" stroke="#000" stroke-width="1.15"/>
<line x1="497.77" y1="488.30" x2="497.77" y2="491.40" stroke="#000" stroke-width="1.15"/>
<line x1="503.78" y1="487.80" x2="503.78" y2="494.30" stroke="#000" stroke-width="1.15"/>
<text x="503.98" y="513.20" font-size="15.5" font-weight="bold" stroke="#000" stroke-width="0.4" text-anchor="middle">28</text>
<text x="285.20" y="474.30" font-size="18" font-weight="bold" stroke="#000" stroke-width="0.4" textLength="151.0" lengthAdjust="spacingAndGlyphs" transform="rotate(-90 285.20 474.30)">Tumor area (mm<tspan font-size="11.5" dy="-4.9">2</tspan><tspan dy="4.9">)</tspan></text>
<text x="419.50" y="534.20" font-size="17.7" font-weight="bold" stroke="#000" stroke-width="0.4" text-anchor="middle">Days</text>
<rect x="378.70" y="457.50" width="9.40" height="10.00" fill="#fff" stroke="#000" stroke-width="1.1"/>
<polyline points="335.40,481.80 383.40,466.30 400.80,454.00 412.70,426.30 424.80,412.20 442.80,370.50 454.70,337.60" fill="none" stroke="#000" stroke-width="1.35"/>
<line x1="412.70" y1="426.30" x2="412.70" y2="438.10" stroke="#000" stroke-width="1.15"/>
<line x1="408.90" y1="438.10" x2="416.50" y2="438.10" stroke="#000" stroke-width="1.15"/>
<line x1="424.80" y1="412.20" x2="424.80" y2="400.80" stroke="#000" stroke-width="1.15"/>
<line x1="421.00" y1="400.80" x2="428.60" y2="400.80" stroke="#000" stroke-width="1.15"/>
<line x1="424.80" y1="412.20" x2="424.80" y2="424.20" stroke="#000" stroke-width="1.15"/>
<line x1="421.00" y1="424.20" x2="428.60" y2="424.20" stroke="#000" stroke-width="1.15"/>
<line x1="442.80" y1="370.50" x2="442.80" y2="355.60" stroke="#000" stroke-width="1.15"/>
<line x1="439.00" y1="355.60" x2="446.60" y2="355.60" stroke="#000" stroke-width="1.15"/>
<line x1="442.80" y1="370.50" x2="442.80" y2="390.20" stroke="#000" stroke-width="1.15"/>
<line x1="439.00" y1="390.20" x2="446.60" y2="390.20" stroke="#000" stroke-width="1.15"/>
<line x1="454.70" y1="337.60" x2="454.70" y2="311.80" stroke="#000" stroke-width="1.15"/>
<line x1="450.90" y1="311.80" x2="458.50" y2="311.80" stroke="#000" stroke-width="1.15"/>
<line x1="454.70" y1="337.60" x2="454.70" y2="364.60" stroke="#000" stroke-width="1.15"/>
<line x1="450.90" y1="364.60" x2="458.50" y2="364.60" stroke="#000" stroke-width="1.15"/>
<ellipse cx="383.40" cy="466.30" rx="4.9" ry="5.1" fill="#fff" stroke="#000" stroke-width="1.1"/>
<ellipse cx="400.80" cy="454.00" rx="4.9" ry="5.1" fill="#fff" stroke="#000" stroke-width="1.1"/>
<ellipse cx="412.70" cy="426.30" rx="4.9" ry="5.1" fill="#fff" stroke="#000" stroke-width="1.1"/>
<ellipse cx="424.80" cy="412.20" rx="4.9" ry="5.1" fill="#fff" stroke="#000" stroke-width="1.1"/>
<ellipse cx="442.80" cy="370.50" rx="4.9" ry="5.1" fill="#fff" stroke="#000" stroke-width="1.1"/>
<ellipse cx="454.70" cy="337.60" rx="4.9" ry="5.1" fill="#fff" stroke="#000" stroke-width="1.1"/>
<polyline points="335.40,481.80 383.40,465.00 400.80,451.00 412.70,404.00 425.00,371.50 442.60,342.20" fill="none" stroke="#000" stroke-width="1.35"/>
<line x1="412.70" y1="404.00" x2="412.70" y2="393.50" stroke="#000" stroke-width="1.15"/>
<line x1="408.90" y1="393.50" x2="416.50" y2="393.50" stroke="#000" stroke-width="1.15"/>
<line x1="425.00" y1="371.50" x2="425.00" y2="361.90" stroke="#000" stroke-width="1.15"/>
<line x1="421.20" y1="361.90" x2="428.80" y2="361.90" stroke="#000" stroke-width="1.15"/>
<line x1="425.00" y1="371.50" x2="425.00" y2="381.50" stroke="#000" stroke-width="1.15"/>
<line x1="421.20" y1="381.50" x2="428.80" y2="381.50" stroke="#000" stroke-width="1.15"/>
<line x1="442.60" y1="342.20" x2="442.60" y2="349.80" stroke="#000" stroke-width="1.15"/>
<line x1="438.80" y1="349.80" x2="446.40" y2="349.80" stroke="#000" stroke-width="1.15"/>
<polygon points="383.40,458.70 388.90,469.30 377.90,469.30" fill="#fff" stroke="#000" stroke-width="1.1"/>
<polygon points="400.80,444.70 406.30,455.30 395.30,455.30" fill="#fff" stroke="#000" stroke-width="1.1"/>
<polygon points="412.70,397.70 418.20,408.30 407.20,408.30" fill="#fff" stroke="#000" stroke-width="1.1"/>
<polygon points="425.00,365.20 430.50,375.80 419.50,375.80" fill="#fff" stroke="#000" stroke-width="1.1"/>
<polygon points="442.60,335.90 448.10,346.50 437.10,346.50" fill="#fff" stroke="#000" stroke-width="1.1"/>
<polyline points="335.40,481.80 383.30,466.00 401.20,456.50 413.00,457.30 425.30,464.60 443.00,464.00 455.50,462.70 467.80,456.40 485.40,448.90 503.70,432.10" fill="none" stroke="#000" stroke-width="1.35"/>
<line x1="443.00" y1="464.00" x2="443.00" y2="456.50" stroke="#000" stroke-width="1.15"/>
<line x1="439.20" y1="456.50" x2="446.80" y2="456.50" stroke="#000" stroke-width="1.15"/>
<line x1="443.00" y1="464.00" x2="443.00" y2="471.90" stroke="#000" stroke-width="1.15"/>
<line x1="439.20" y1="471.90" x2="446.80" y2="471.90" stroke="#000" stroke-width="1.15"/>
<line x1="455.50" y1="462.70" x2="455.50" y2="454.70" stroke="#000" stroke-width="1.15"/>
<line x1="451.70" y1="454.70" x2="459.30" y2="454.70" stroke="#000" stroke-width="1.15"/>
<line x1="455.50" y1="462.70" x2="455.50" y2="470.70" stroke="#000" stroke-width="1.15"/>
<line x1="451.70" y1="470.70" x2="459.30" y2="470.70" stroke="#000" stroke-width="1.15"/>
<line x1="467.80" y1="456.40" x2="467.80" y2="446.50" stroke="#000" stroke-width="1.15"/>
<line x1="464.00" y1="446.50" x2="471.60" y2="446.50" stroke="#000" stroke-width="1.15"/>
<line x1="467.80" y1="456.40" x2="467.80" y2="467.00" stroke="#000" stroke-width="1.15"/>
<line x1="464.00" y1="467.00" x2="471.60" y2="467.00" stroke="#000" stroke-width="1.15"/>
<line x1="485.40" y1="448.90" x2="485.40" y2="434.60" stroke="#000" stroke-width="1.15"/>
<line x1="481.60" y1="434.60" x2="489.20" y2="434.60" stroke="#000" stroke-width="1.15"/>
<line x1="485.40" y1="448.90" x2="485.40" y2="463.30" stroke="#000" stroke-width="1.15"/>
<line x1="481.60" y1="463.30" x2="489.20" y2="463.30" stroke="#000" stroke-width="1.15"/>
<line x1="503.70" y1="432.10" x2="503.70" y2="407.60" stroke="#000" stroke-width="1.15"/>
<line x1="499.90" y1="407.60" x2="507.50" y2="407.60" stroke="#000" stroke-width="1.15"/>
<line x1="503.70" y1="432.10" x2="503.70" y2="456.10" stroke="#000" stroke-width="1.15"/>
<line x1="499.90" y1="456.10" x2="507.50" y2="456.10" stroke="#000" stroke-width="1.15"/>
<rect x="328.90" y="475.50" width="13.00" height="12.60" fill="#000"/>
<rect x="376.80" y="459.70" width="13.00" height="12.60" fill="#000"/>
<rect x="394.70" y="450.20" width="13.00" height="12.60" fill="#000"/>
<rect x="406.50" y="451.00" width="13.00" height="12.60" fill="#000"/>
<rect x="418.80" y="458.30" width="13.00" height="12.60" fill="#000"/>
<rect x="436.50" y="457.70" width="13.00" height="12.60" fill="#000"/>
<rect x="449.00" y="456.40" width="13.00" height="12.60" fill="#000"/>
<rect x="461.30" y="450.10" width="13.00" height="12.60" fill="#000"/>
<rect x="478.90" y="442.60" width="13.00" height="12.60" fill="#000"/>
<rect x="497.20" y="425.80" width="13.00" height="12.60" fill="#000"/>
<polyline points="335.40,481.80 383.40,462.50 400.60,447.70 412.50,414.40 424.80,381.90 442.50,330.10" fill="none" stroke="#000" stroke-width="1.35"/>
<line x1="424.80" y1="381.90" x2="424.80" y2="394.10" stroke="#000" stroke-width="1.15"/>
<line x1="421.00" y1="394.10" x2="428.60" y2="394.10" stroke="#000" stroke-width="1.15"/>
<line x1="442.50" y1="330.10" x2="442.50" y2="312.40" stroke="#000" stroke-width="1.15"/>
<line x1="438.70" y1="312.40" x2="446.30" y2="312.40" stroke="#000" stroke-width="1.15"/>
<line x1="442.50" y1="330.10" x2="442.50" y2="351.80" stroke="#000" stroke-width="1.15"/>
<line x1="438.70" y1="351.80" x2="446.30" y2="351.80" stroke="#000" stroke-width="1.15"/>
<rect x="395.90" y="442.70" width="9.40" height="10.00" fill="#fff" stroke="#000" stroke-width="1.1"/>
<rect x="407.80" y="409.40" width="9.40" height="10.00" fill="#fff" stroke="#000" stroke-width="1.1"/>
<rect x="420.10" y="376.90" width="9.40" height="10.00" fill="#fff" stroke="#000" stroke-width="1.1"/>
<rect x="437.80" y="325.10" width="9.40" height="10.00" fill="#fff" stroke="#000" stroke-width="1.1"/>
<text x="346.20" y="318.50" font-size="11.7" stroke="#000" stroke-width="0.3" textLength="67.4" lengthAdjust="spacingAndGlyphs">No treatment</text>
<line x1="414.80" y1="317.60" x2="433.80" y2="325.70" stroke="#000" stroke-width="1.15"/>
<polygon points="433.80,325.70 426.24,325.58 428.48,320.33" fill="#000"/>
<text x="461.70" y="331.50" font-size="11.7" stroke="#000" stroke-width="0.3" textLength="36.7" lengthAdjust="spacingAndGlyphs">AdNK4</text>
<text x="465.00" y="346.00" font-size="11.7" stroke="#000" stroke-width="0.3" textLength="30.0" lengthAdjust="spacingAndGlyphs">+PBS</text>
<text x="334.80" y="375.20" font-size="11.7" stroke="#000" stroke-width="0.3" textLength="64.0" lengthAdjust="spacingAndGlyphs">AdNull+DCs</text>
<line x1="394.30" y1="378.80" x2="408.80" y2="398.50" stroke="#000" stroke-width="1.15"/>
<polygon points="408.80,398.50 402.36,394.55 406.95,391.17" fill="#000"/>
<text x="453.00" y="482.40" font-size="11.7" stroke="#000" stroke-width="0.3" textLength="66.0" lengthAdjust="spacingAndGlyphs">AdNK4+DCs</text>
</g>
</svg>
</body></html>
